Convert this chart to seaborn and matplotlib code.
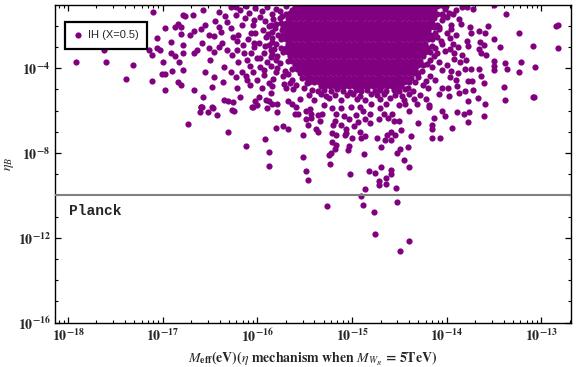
import numpy as np
import pandas as pd
import seaborn as sns
import matplotlib
matplotlib.use("Agg")
import matplotlib.pyplot as plt
from matplotlib.ticker import FixedLocator, FixedFormatter, LogLocator, NullFormatter

# all values are log10 (x: M_eff in eV, y: eta_B)

# sparse points left of the blob
left_tail = [
    (-17.92, -3.73), (-17.60, -3.72), (-17.62, -3.15), (-17.31, -3.87), (-17.39, -4.53),
    (-17.11, -4.63), (-17.10, -1.37), (-16.98, -2.13), (-17.06, -2.60), (-17.14, -3.15),
    (-17.11, -3.40), (-17.06, -3.04), (-17.03, -3.15), (-17.00, -3.70), (-17.01, -4.30),
    (-16.98, -4.30), (-16.98, -5.04), (-16.90, -4.13), (-16.91, -2.76), (-16.87, -2.08),
    (-16.84, -1.94), (-16.81, -2.05), (-16.81, -2.41), (-16.78, -1.49), (-16.79, -2.92),
    (-16.91, -3.31), (-16.87, -3.42), (-16.79, -3.31), (-16.83, -3.70), (-16.79, -4.09),
    (-16.84, -4.66), (-16.81, -4.80), (-16.76, -1.53), (-16.68, -1.50), (-16.57, -1.26),
    (-16.67, -2.24), (-16.71, -2.44), (-16.60, -2.17), (-16.51, -2.44), (-16.46, -2.49),
    (-16.41, -2.05), (-16.34, -1.55), (-16.32, -1.82), (-16.28, -2.13), (-16.23, -1.50),
    (-16.23, -1.11), (-16.28, -1.11), (-16.20, -2.44), (-16.16, -1.97), (-16.13, -1.66),
    (-16.09, -1.39), (-16.05, -1.97), (-16.07, -2.36), (-16.02, -2.36), (-15.98, -2.83),
    (-16.67, -3.31), (-16.64, -3.15), (-16.51, -3.07), (-16.46, -3.23), (-16.41, -3.00),
    (-16.37, -2.83), (-16.32, -3.15), (-16.27, -3.39), (-16.21, -3.15), (-16.20, -3.70),
    (-16.14, -3.31), (-16.11, -3.62), (-16.07, -3.31), (-16.04, -3.00), (-16.00, -3.54),
    (-15.97, -3.94), (-15.93, -3.31), (-15.90, -3.70), (-15.86, -3.15), (-16.55, -4.17),
    (-16.46, -4.41), (-16.35, -3.94), (-16.28, -4.17), (-16.23, -4.41), (-16.16, -4.17),
    (-16.11, -4.57), (-16.05, -4.17), (-16.00, -4.57), (-15.93, -4.33), (-15.88, -4.72),
    (-15.83, -4.49), (-16.67, -5.04), (-16.57, -5.35), (-16.48, -5.83), (-16.60, -5.83),
    (-16.35, -5.51), (-16.27, -5.98), (-16.18, -5.35), (-16.05, -5.83), (-15.98, -5.35),
    (-15.91, -5.51), (-15.86, -5.19), (-15.79, -5.67), (-16.73, -6.64),
]

# medium density band on the left edge of the blob
left_edge = [
    (-16.18, -1.25), (-16.12, -1.05), (-16.02, -1.18), (-15.95, -1.32), (-15.90, -1.10),
    (-15.85, -1.45), (-15.80, -1.22), (-15.76, -1.62), (-15.97, -1.58), (-15.92, -1.80),
    (-16.04, -1.72), (-15.86, -1.95), (-15.81, -2.12), (-15.94, -2.18), (-15.89, -2.40),
    (-16.10, -2.62), (-16.03, -2.80), (-15.85, -2.60), (-15.80, -2.85), (-15.92, -2.98),
    (-16.15, -2.90), (-15.84, -3.35), (-15.97, -3.52), (-16.08, -3.88), (-15.86, -3.90),
    (-15.80, -3.62), (-15.93, -4.10), (-15.80, -4.20), (-16.12, -4.35), (-15.85, -4.85),
    (-15.95, -4.92), (-16.08, -4.78), (-15.72, -4.75), (-15.65, -4.70), (-15.70, -4.95),
    (-15.62, -4.98), (-16.22, -2.72), (-16.26, -2.55), (-16.38, -2.30), (-16.45, -1.80),
    (-16.55, -1.95), (-16.40, -1.35), (-16.50, -3.60), (-16.58, -2.80), (-16.36, -4.65),
    (-16.22, -4.92), (-16.48, -4.90),
    (-15.60, -1.12), (-15.70, -1.05), (-15.76, -1.30), (-15.66, -1.38), (-15.74, -1.52),
    (-15.83, -1.70), (-15.80, -1.90), (-15.88, -2.02), (-15.84, -2.30), (-15.91, -2.55),
    (-15.84, -2.76), (-15.88, -2.92), (-15.82, -3.08), (-15.86, -3.48), (-15.79, -3.44),
    (-15.76, -3.76), (-15.79, -3.98), (-15.71, -4.14), (-15.73, -4.38), (-15.63, -4.56),
    (-15.59, -4.80), (-15.51, -4.92), (-15.48, -4.72), (-15.68, -4.30), (-15.74, -2.18),
]

# medium density band on the right edge of the blob
right_edge = [
    (-14.02, -1.20), (-13.98, -1.40), (-14.05, -1.75), (-13.95, -1.95), (-14.08, -2.15),
    (-14.00, -2.35), (-14.10, -2.55), (-13.97, -2.60), (-14.05, -2.85), (-14.12, -3.05),
    (-14.02, -3.20), (-14.13, -3.45), (-14.08, -3.70), (-14.15, -3.95), (-14.05, -4.10),
    (-14.18, -4.35), (-14.12, -4.55), (-14.22, -4.60), (-14.25, -4.80), (-14.20, -4.95),
    (-13.92, -3.55), (-13.96, -4.40), (-13.95, -2.15), (-13.90, -2.45), (-13.93, -2.85),
    (-13.97, -3.10), (-13.88, -3.00), (-13.92, -3.30), (-14.00, -3.85), (-13.95, -4.15),
    (-13.85, -1.90), (-13.90, -1.25), (-13.98, -5.30), (-14.08, -5.20),
    (-14.06, -1.02), (-14.01, -1.06), (-14.04, -1.56), (-14.10, -1.96), (-14.12, -2.36),
    (-14.06, -2.70), (-14.16, -2.96), (-14.10, -3.30), (-14.18, -3.60), (-14.21, -3.80),
    (-14.26, -4.14), (-14.30, -4.42), (-14.33, -4.66), (-14.41, -4.96),
]

# sparse points right of the blob
right_tail = [
    (-13.37, -1.47), (-13.24, -2.36), (-12.85, -2.03), (-12.82, -1.99), (-12.82, -3.07),
    (-13.09, -2.98), (-13.07, -3.97), (-13.22, -3.73), (-13.24, -4.16), (-13.38, -3.78),
    (-13.36, -4.06), (-13.39, -4.91), (-13.38, -5.52), (-13.09, -5.34), (-13.08, -5.38),
    (-13.44, -3.02), (-13.50, -2.65), (-13.50, -3.68), (-13.50, -3.92), (-13.50, -4.11),
    (-13.56, -2.03), (-13.60, -2.36), (-13.61, -2.93), (-13.58, -3.40), (-13.61, -4.72),
    (-13.60, -5.67), (-13.61, -6.28), (-13.67, -5.43), (-13.77, -5.57), (-13.76, -6.09),
    (-13.72, -5.05), (-13.89, -6.09), (-13.82, -6.14), (-13.94, -6.80), (-13.77, -6.56),
    (-13.64, -4.35), (-13.66, -4.06), (-13.73, -4.63), (-13.78, -4.63), (-13.81, -5.10),
    (-13.87, -5.19), (-13.89, -4.86), (-13.90, -4.58), (-13.99, -4.96), (-14.05, -4.96),
    (-13.88, -4.25), (-13.81, -4.06), (-13.74, -4.06), (-13.80, -3.64), (-13.86, -3.73),
    (-13.84, -3.40), (-13.64, -3.31), (-13.66, -3.12), (-13.65, -2.79), (-13.66, -2.27),
    (-13.74, -2.36), (-13.75, -2.08), (-13.79, -2.74), (-13.77, -2.98), (-13.84, -1.14),
    (-13.79, -1.14), (-13.72, -1.23), (-13.93, -1.47), (-13.87, -1.70), (-13.50, -1.04),
    (-14.00, -1.61),
]

# lower fringe of the blob
lower_band = [
    (-15.42, -5.02), (-15.36, -5.10), (-15.30, -5.04), (-15.22, -5.08), (-15.16, -5.00),
    (-15.10, -5.06), (-15.02, -5.12), (-14.96, -5.03), (-14.90, -5.07), (-14.84, -5.01),
    (-14.76, -5.09), (-14.70, -5.04), (-14.64, -5.10), (-14.56, -5.02), (-14.50, -5.06),
    (-14.44, -5.00), (-14.36, -5.08), (-15.45, -5.28), (-15.33, -5.22), (-15.27, -5.30),
    (-15.18, -5.25), (-15.05, -5.27), (-14.99, -5.21), (-14.92, -5.30), (-14.80, -5.24),
    (-14.74, -5.28), (-14.66, -5.22), (-14.55, -5.26), (-14.47, -5.31), (-14.40, -5.23),
    (-14.28, -5.27), (-15.55, -5.45), (-15.40, -5.50), (-15.24, -5.42), (-15.12, -5.48),
    (-14.95, -5.44), (-14.86, -5.52), (-14.70, -5.46), (-14.60, -5.41), (-14.45, -5.49),
    (-14.35, -5.44), (-14.22, -5.47),
]

# scattered points below the blob
low_tail = [
    (-16.60, -5.81), (-16.58, -5.81), (-16.61, -6.09), (-16.52, -6.09), (-16.47, -5.90),
    (-16.43, -6.23), (-16.31, -5.56), (-16.26, -5.62), (-16.25, -6.00), (-16.06, -5.85),
    (-16.00, -5.76), (-16.02, -5.57), (-15.90, -5.90), (-15.88, -5.57), (-15.84, -5.67),
    (-15.79, -6.09), (-15.80, -6.80), (-15.73, -6.75), (-15.68, -6.89), (-15.68, -5.57),
    (-15.63, -5.67), (-15.60, -6.14), (-15.57, -6.14), (-15.59, -5.85), (-15.52, -7.13),
    (-15.49, -6.00), (-15.49, -6.42), (-15.47, -6.70), (-15.44, -5.95), (-15.43, -6.14),
    (-15.43, -6.33), (-15.38, -6.85), (-15.36, -7.03), (-15.36, -6.23), (-15.34, -6.51),
    (-15.32, -6.14), (-15.30, -5.76), (-15.21, -7.46), (-15.21, -7.08), (-15.20, -6.70),
    (-15.18, -7.79), (-15.17, -7.60), (-15.17, -7.17), (-15.17, -6.14), (-15.18, -6.51),
    (-15.12, -6.70), (-15.06, -6.85), (-15.06, -7.08), (-15.07, -7.17), (-15.04, -7.88),
    (-15.03, -7.69), (-15.00, -7.27), (-14.98, -6.75), (-14.94, -6.56), (-14.92, -6.99),
    (-14.90, -7.27), (-14.86, -7.22), (-14.86, -6.42), (-14.81, -6.61), (-14.74, -7.27),
    (-14.69, -7.74), (-14.65, -7.41), (-14.63, -7.17), (-14.59, -6.99), (-14.59, -7.41),
    (-14.55, -7.13), (-14.49, -7.79), (-14.48, -6.94), (-14.41, -7.74), (-14.38, -7.22),
    (-14.30, -6.61), (-14.16, -7.27), (-14.07, -7.27), (-14.15, -6.89), (-14.15, -6.70),
    (-14.13, -6.33), (-14.02, -6.28), (-14.05, -6.04), (-14.19, -5.76), (-14.19, -5.85),
    (-14.31, -5.67), (-14.40, -6.00), (-14.50, -6.51), (-14.56, -6.47), (-14.62, -6.37),
    (-14.58, -6.14), (-14.66, -6.14), (-14.72, -6.42), (-14.70, -5.90), (-14.81, -6.18),
    (-14.88, -6.00), (-14.96, -6.23), (-15.03, -6.42), (-15.08, -6.28), (-15.12, -5.90),
    (-15.21, -5.90), (-15.01, -5.85), (-14.92, -5.81), (-14.80, -5.67), (-14.64, -5.67),
    (-14.50, -5.76), (-14.44, -5.67), (-16.31, -7.03), (-16.12, -7.69), (-15.92, -7.36),
    (-15.88, -7.93), (-15.88, -8.59), (-15.52, -8.21), (-15.49, -8.87), (-15.47, -9.25),
    (-15.23, -8.50), (-15.24, -8.09), (-15.22, -8.02), (-15.02, -9.01), (-14.87, -8.07),
    (-14.82, -8.87), (-14.76, -8.92), (-14.69, -8.64), (-14.71, -9.30), (-14.71, -9.49),
    (-14.64, -9.20), (-14.64, -9.44), (-14.59, -8.78), (-14.59, -8.97), (-14.54, -9.63),
    (-14.53, -8.02), (-14.45, -8.35), (-14.40, -8.64), (-14.86, -9.72), (-14.91, -10.03),
    (-15.26, -10.52), (-14.88, -10.43), (-14.77, -10.76), (-14.52, -10.29), (-14.76, -11.80),
    (-14.40, -12.13), (-14.49, -12.60),
]

# saturated core of the blob, row by row
core_y = [-1.05, -1.25, -1.45, -1.65, -1.85, -2.05, -2.25, -2.45, -2.65, -2.85,
          -3.05, -3.25, -3.45, -3.65, -3.85, -4.05, -4.25, -4.45, -4.65, -4.85]
core_x = [
    [-15.55, -15.5, -15.45, -15.4, -15.35, -15.3, -15.25, -15.2, -15.15, -15.1, -15.05, -15.0, -14.95, -14.9,
     -14.85, -14.8, -14.75, -14.7, -14.65, -14.6, -14.55, -14.5, -14.45, -14.4, -14.35, -14.3, -14.25, -14.2,
     -14.15, -14.1],
    [-15.63, -15.58, -15.53, -15.48, -15.43, -15.38, -15.33, -15.28, -15.23, -15.18, -15.13, -15.08, -15.03,
     -14.98, -14.93, -14.88, -14.83, -14.78, -14.73, -14.68, -14.63, -14.58, -14.53, -14.48, -14.43, -14.38,
     -14.33, -14.28, -14.23, -14.18, -14.13],
    [-15.7, -15.65, -15.6, -15.55, -15.5, -15.45, -15.4, -15.35, -15.3, -15.25, -15.2, -15.15, -15.1, -15.05,
     -15.0, -14.95, -14.9, -14.85, -14.8, -14.75, -14.7, -14.65, -14.6, -14.55, -14.5, -14.45, -14.4, -14.35,
     -14.3, -14.25, -14.2, -14.15, -14.1, -14.05],
    [-15.68, -15.63, -15.58, -15.53, -15.48, -15.43, -15.38, -15.33, -15.28, -15.23, -15.18, -15.13, -15.08,
     -15.03, -14.98, -14.93, -14.88, -14.83, -14.78, -14.73, -14.68, -14.63, -14.58, -14.53, -14.48, -14.43,
     -14.38, -14.33, -14.28, -14.23, -14.18, -14.13],
    [-15.75, -15.7, -15.65, -15.6, -15.55, -15.5, -15.45, -15.4, -15.35, -15.3, -15.25, -15.2, -15.15, -15.1,
     -15.05, -15.0, -14.95, -14.9, -14.85, -14.8, -14.75, -14.7, -14.65, -14.6, -14.55, -14.5, -14.45, -14.4,
     -14.35, -14.3, -14.25, -14.2, -14.15],
    [-15.73, -15.68, -15.63, -15.58, -15.53, -15.48, -15.43, -15.38, -15.33, -15.28, -15.23, -15.18, -15.13,
     -15.08, -15.03, -14.98, -14.93, -14.88, -14.83, -14.78, -14.73, -14.68, -14.63, -14.58, -14.53, -14.48,
     -14.43, -14.38, -14.33, -14.28, -14.23, -14.18, -14.13, -14.08],
    [-15.7, -15.65, -15.6, -15.55, -15.5, -15.45, -15.4, -15.35, -15.3, -15.25, -15.2, -15.15, -15.1, -15.05,
     -15.0, -14.95, -14.9, -14.85, -14.8, -14.75, -14.7, -14.65, -14.6, -14.55, -14.5, -14.45, -14.4, -14.35,
     -14.3, -14.25, -14.2],
    [-15.78, -15.73, -15.68, -15.63, -15.58, -15.53, -15.48, -15.43, -15.38, -15.33, -15.28, -15.23, -15.18,
     -15.13, -15.08, -15.03, -14.98, -14.93, -14.88, -14.83, -14.78, -14.73, -14.68, -14.63, -14.58, -14.53,
     -14.48, -14.43, -14.38, -14.33, -14.28, -14.23, -14.18, -14.13],
    [-15.75, -15.7, -15.65, -15.6, -15.55, -15.5, -15.45, -15.4, -15.35, -15.3, -15.25, -15.2, -15.15, -15.1,
     -15.05, -15.0, -14.95, -14.9, -14.85, -14.8, -14.75, -14.7, -14.65, -14.6, -14.55, -14.5, -14.45, -14.4,
     -14.35, -14.3, -14.25, -14.2, -14.15],
    [-15.68, -15.63, -15.58, -15.53, -15.48, -15.43, -15.38, -15.33, -15.28, -15.23, -15.18, -15.13, -15.08,
     -15.03, -14.98, -14.93, -14.88, -14.83, -14.78, -14.73, -14.68, -14.63, -14.58, -14.53, -14.48, -14.43,
     -14.38, -14.33, -14.28, -14.23],
    [-15.75, -15.7, -15.65, -15.6, -15.55, -15.5, -15.45, -15.4, -15.35, -15.3, -15.25, -15.2, -15.15, -15.1,
     -15.05, -15.0, -14.95, -14.9, -14.85, -14.8, -14.75, -14.7, -14.65, -14.6, -14.55, -14.5, -14.45, -14.4,
     -14.35, -14.3, -14.25, -14.2],
    [-15.73, -15.68, -15.63, -15.58, -15.53, -15.48, -15.43, -15.38, -15.33, -15.28, -15.23, -15.18, -15.13,
     -15.08, -15.03, -14.98, -14.93, -14.88, -14.83, -14.78, -14.73, -14.68, -14.63, -14.58, -14.53, -14.48,
     -14.43, -14.38, -14.33, -14.28, -14.23, -14.18],
    [-15.65, -15.6, -15.55, -15.5, -15.45, -15.4, -15.35, -15.3, -15.25, -15.2, -15.15, -15.1, -15.05, -15.0,
     -14.95, -14.9, -14.85, -14.8, -14.75, -14.7, -14.65, -14.6, -14.55, -14.5, -14.45, -14.4, -14.35, -14.3,
     -14.25],
    [-15.68, -15.63, -15.58, -15.53, -15.48, -15.43, -15.38, -15.33, -15.28, -15.23, -15.18, -15.13, -15.08,
     -15.03, -14.98, -14.93, -14.88, -14.83, -14.78, -14.73, -14.68, -14.63, -14.58, -14.53, -14.48, -14.43,
     -14.38, -14.33, -14.28],
    [-15.6, -15.55, -15.5, -15.45, -15.4, -15.35, -15.3, -15.25, -15.2, -15.15, -15.1, -15.05, -15.0, -14.95,
     -14.9, -14.85, -14.8, -14.75, -14.7, -14.65, -14.6, -14.55, -14.5, -14.45, -14.4, -14.35, -14.3, -14.25],
    [-15.63, -15.58, -15.53, -15.48, -15.43, -15.38, -15.33, -15.28, -15.23, -15.18, -15.13, -15.08, -15.03,
     -14.98, -14.93, -14.88, -14.83, -14.78, -14.73, -14.68, -14.63, -14.58, -14.53, -14.48, -14.43, -14.38,
     -14.33],
    [-15.55, -15.5, -15.45, -15.4, -15.35, -15.3, -15.25, -15.2, -15.15, -15.1, -15.05, -15.0, -14.95, -14.9,
     -14.85, -14.8, -14.75, -14.7, -14.65, -14.6, -14.55, -14.5, -14.45, -14.4, -14.35, -14.3],
    [-15.53, -15.48, -15.43, -15.38, -15.33, -15.28, -15.23, -15.18, -15.13, -15.08, -15.03, -14.98, -14.93,
     -14.88, -14.83, -14.78, -14.73, -14.68, -14.63, -14.58, -14.53, -14.48, -14.43, -14.38],
    [-15.45, -15.4, -15.35, -15.3, -15.25, -15.2, -15.15, -15.1, -15.05, -15.0, -14.95, -14.9, -14.85, -14.8,
     -14.75, -14.7, -14.65, -14.6, -14.55, -14.5, -14.45, -14.4],
    [-15.33, -15.28, -15.23, -15.18, -15.13, -15.08, -15.03, -14.98, -14.93, -14.88, -14.83, -14.78, -14.73,
     -14.68, -14.63, -14.58, -14.53, -14.48],
]

planck_level = 1e-10
xtick_exp = [-18, -17, -16, -15, -14, -13]
ytick_exp = [-16, -12, -8, -4]
series_label = "IH (X=0.5)"

# build one table of points
pts = left_tail + left_edge + right_edge + right_tail + lower_band + low_tail
for yy, row in zip(core_y, core_x):
    pts += [(xx, yy) for xx in row]
df = pd.DataFrame(pts, columns=["lx", "ly"])
df["M_eff"] = 10.0 ** df["lx"]
df["eta_B"] = 10.0 ** df["ly"]

sns.set_style("ticks")
plt.rcParams["mathtext.fontset"] = "stix"

fig = plt.figure(figsize=(5.76, 3.67), dpi=100)
ax = fig.add_axes([0.096, 0.1207, 0.8948, 0.8665])

sns.scatterplot(data=df, x="M_eff", y="eta_B", color="#800080", s=20, linewidth=0,
                ax=ax, label=series_label)
ax.axhline(planck_level, color="#808080", lw=1.5, zorder=3)

ax.set_xscale("log")
ax.set_yscale("log")
ax.set_xlim(10 ** -18.134, 10 ** -12.69)
ax.set_ylim(1e-16, 10 ** -1.01)

ax.xaxis.set_major_locator(FixedLocator([10.0 ** e for e in xtick_exp]))
ax.xaxis.set_major_formatter(FixedFormatter([r"$\mathbf{10^{%d}}$" % e for e in xtick_exp]))
ax.xaxis.set_minor_locator(LogLocator(base=10, subs=np.arange(2, 10), numticks=60))
ax.xaxis.set_minor_formatter(NullFormatter())
ax.yaxis.set_major_locator(FixedLocator([10.0 ** e for e in ytick_exp]))
ax.yaxis.set_major_formatter(FixedFormatter([r"$\mathbf{10^{%d}}$" % e for e in ytick_exp]))
ax.yaxis.set_minor_locator(FixedLocator([10.0 ** k for k in range(-16, 0) if k % 4]))
ax.yaxis.set_minor_formatter(NullFormatter())

ax.tick_params(which="both", direction="in", top=True, right=True, color="black")
ax.tick_params(which="major", length=4.5, width=0.9, labelsize=10, pad=3.5)
ax.tick_params(which="minor", length=2.5, width=0.8)
for sp in ax.spines.values():
    sp.set_color("black")
    sp.set_linewidth(1.0)

ax.set_xlabel(r"$M_{\mathbf{eff}}$(eV)($\eta$ mechanism when $M_{W_R}$ = 5TeV)",
              fontsize=10, fontweight="bold", family="STIXGeneral", labelpad=4)
ax.set_ylabel(r"$\eta_B$", fontsize=10, labelpad=1)

ax.text(0.0266, 0.351, "Planck", transform=ax.transAxes, ha="left", va="center",
        fontsize=10.5, fontweight="bold", family="Liberation Mono")

leg = ax.legend(loc="upper left", bbox_to_anchor=(0.0188, 0.9456), borderaxespad=0,
                frameon=True, fancybox=False, edgecolor="black", framealpha=1,
                prop={"family": "Liberation Sans", "size": 8},
                handletextpad=0.4, borderpad=0.75, handlelength=0.9)
leg.get_frame().set_linewidth(1.6)

fig.savefig("out.png", dpi=100)
